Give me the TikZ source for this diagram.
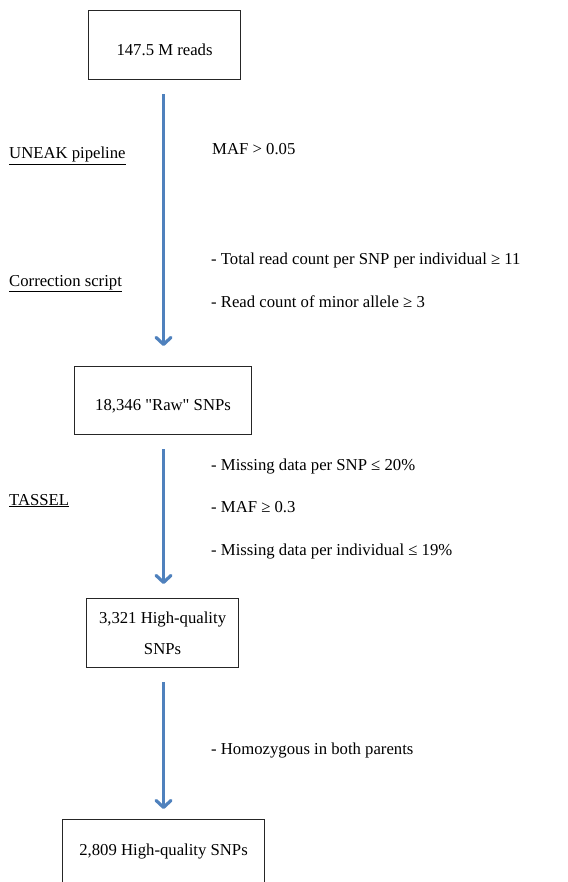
\documentclass[tikz,border=0pt]{standalone}
\usepackage{fontspec}
\setmainfont{Liberation Serif}
\newfontfamily\plainserif{Liberation Serif}
\usetikzlibrary{arrows.meta}
\definecolor{flowblue}{RGB}{79,129,189}
\begin{document}
\begin{tikzpicture}[x=1pt,y=-1pt,
  every node/.style={font=\fontsize{16.7}{31}\selectfont, inner sep=0pt},
  box/.style={draw=black!85, line width=1.1pt, align=center},
  lbl/.style={anchor=base west},
  flow/.style={draw=flowblue, line width=2.7pt, -{Straight Barb[length=7pt,width=15pt,line width=3.2pt,round]}}]
\useasboundingbox (0,0) rectangle (567,882);
\clip (0,0) rectangle (567,882);
\node[box, anchor=north west, minimum width=152pt, text height=45pt, text depth=24pt] (b1) at (88,10) {147.5 M reads};
\node[box, anchor=north west, minimum width=177pt, text height=44pt, text depth=24pt] (b2) at (74,366) {\plainserif 18,346 "Raw" SNPs};
\node[box, anchor=north west, minimum width=152pt, minimum height=69pt] (b3) at (86,598) {3,321 High-quality\\SNPs};
\node[box, anchor=north west, minimum width=202pt, text height=36pt, text depth=40pt] (b4) at (62,819) {2,809 High-quality SNPs};
\draw[flow, shorten <=14pt, shorten >=20pt] (b1.south -| b4.north) -- (b2.north -| b4.north);
\draw[flow, shorten <=14pt, shorten >=14pt] (b2.south -| b4.north) -- (b3.north -| b4.north);
\draw[flow, shorten <=14pt, shorten >=10pt] (b3.south -| b4.north) -- (b4.north);
\node[lbl] (l1) at (9,159) {\underline{UNEAK pipeline}};
\node[lbl] (l2) at (9,286) {\underline{Correction script}};
\node[lbl] (l3) at (9,505) {\underline{TASSEL}};
\node[lbl] (c1) at (212,155) {MAF > 0.05};
\node[lbl] (c2) at (211,265) {- Total read count per SNP per individual ≥ 11};
\node[lbl] (c3) at (211,307) {- Read count of minor allele ≥ 3};
\node[lbl] (c4) at (211,470) {- Missing data per SNP ≤ 20\%};
\node[lbl] (c5) at (211,512) {- MAF ≥ 0.3};
\node[lbl] (c6) at (211,555) {- Missing data per individual ≤ 19\%};
\node[lbl] (c7) at (211,754) {- Homozygous in both parents};
\end{tikzpicture}
\end{document}
